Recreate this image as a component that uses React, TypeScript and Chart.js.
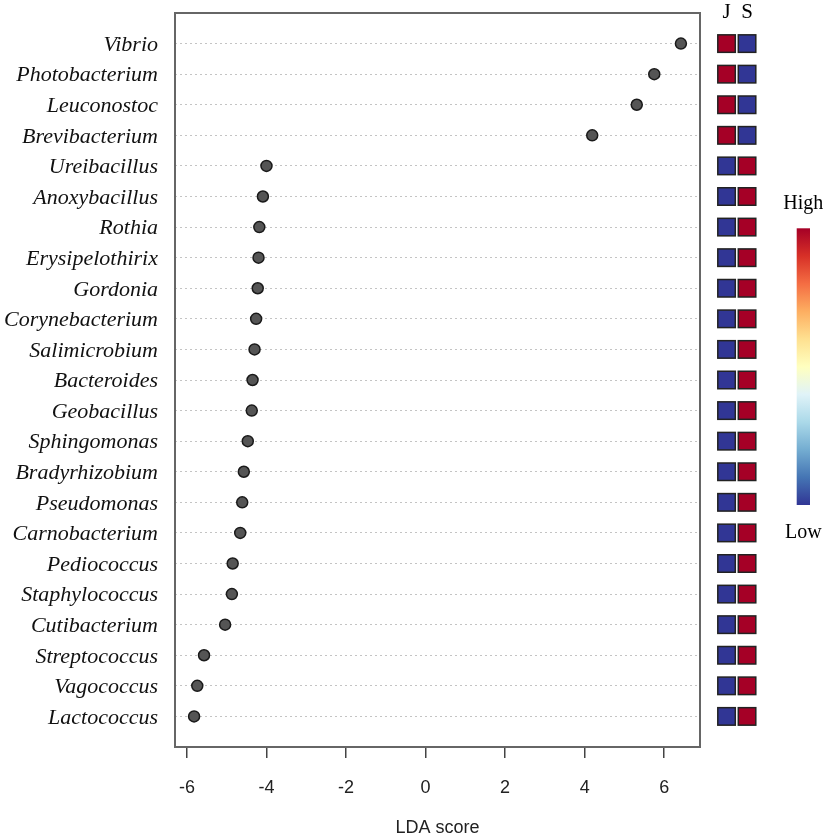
import React, { useEffect, useRef } from "react";
import { Chart, registerables } from "chart.js";

Chart.register(...registerables);

const genera = [
  "Vibrio", "Photobacterium", "Leuconostoc", "Brevibacterium", "Ureibacillus",
  "Anoxybacillus", "Rothia", "Erysipelothirix", "Gordonia", "Corynebacterium",
  "Salimicrobium", "Bacteroides", "Geobacillus", "Sphingomonas", "Bradyrhizobium",
  "Pseudomonas", "Carnobacterium", "Pediococcus", "Staphylococcus", "Cutibacterium",
  "Streptococcus", "Vagococcus", "Lactococcus",
];
const ldaScores = [
  6.42, 5.75, 5.31, 4.19, -4.0, -4.09, -4.18, -4.2, -4.22, -4.26,
  -4.3, -4.35, -4.37, -4.47, -4.57, -4.61, -4.66, -4.85, -4.87, -5.04,
  -5.57, -5.74, -5.82,
];
// relative abundance level per group (1 = high, 0 = low)
const groupJ = [1, 1, 1, 1, 0, 0, 0, 0, 0, 0, 0, 0, 0, 0, 0, 0, 0, 0, 0, 0, 0, 0, 0];
const groupS = [0, 0, 0, 0, 1, 1, 1, 1, 1, 1, 1, 1, 1, 1, 1, 1, 1, 1, 1, 1, 1, 1, 1];
const groupLabels = ["J", "S"];
const xTickValues = [-6, -4, -2, 0, 2, 4, 6];

const palette = [
  "#313695", "#4575b4", "#74add1", "#abd9e9", "#e0f3f8", "#ffffbf",
  "#fee090", "#fdae61", "#f46d43", "#d73027", "#a50026",
];

function hexToRgb(h: string) {
  const n = parseInt(h.slice(1), 16);
  return [(n >> 16) & 255, (n >> 8) & 255, n & 255];
}
function levelColor(v: number) {
  const t = Math.max(0, Math.min(1, v)) * (palette.length - 1);
  const i = Math.min(palette.length - 2, Math.floor(t));
  const f = t - i;
  const a = hexToRgb(palette[i]);
  const b = hexToRgb(palette[i + 1]);
  const c = a.map((x, k) => Math.round(x + (b[k] - x) * f));
  return `rgb(${c[0]},${c[1]},${c[2]})`;
}

const sidePlugin = {
  id: "sidePlugin",
  beforeDatasetsDraw(chart: any) {
    const { ctx, chartArea } = chart;
    ctx.save();
    ctx.strokeStyle = "#666";
    ctx.lineWidth = 2;
    ctx.strokeRect(chartArea.left, chartArea.top, chartArea.right - chartArea.left, chartArea.bottom - chartArea.top);
    ctx.restore();
  },
  afterDraw(chart: any) {
    const { ctx, chartArea } = chart;
    const yScale = chart.scales.y;
    const cell = 17.5;
    const colX = [chartArea.right + 17.8, chartArea.right + 38.3];
    const cols = [groupJ, groupS];
    ctx.save();
    // group headers
    ctx.fillStyle = "#000";
    ctx.font = "21px 'Liberation Serif'";
    ctx.textAlign = "center";
    ctx.textBaseline = "middle";
    groupLabels.forEach((g, k) => {
      ctx.fillText(g, colX[k] + cell / 2, chartArea.top - 0.5);
    });
    // heatmap cells
    ctx.lineWidth = 1.5;
    ctx.strokeStyle = "#222";
    genera.forEach((_, i) => {
      const yc = yScale.getPixelForValue(i);
      cols.forEach((arr, k) => {
        ctx.fillStyle = levelColor(arr[i]);
        ctx.fillRect(colX[k], yc - cell / 2, cell, cell);
        ctx.strokeRect(colX[k], yc - cell / 2, cell, cell);
      });
    });
    // colour key
    const bx = 796.7, bw = 13.3, bTop = 228.3, bBot = 505;
    const grad = ctx.createLinearGradient(0, bBot, 0, bTop);
    palette.forEach((c, i) => grad.addColorStop(i / (palette.length - 1), c));
    ctx.fillStyle = grad;
    ctx.fillRect(bx, bTop, bw, bBot - bTop);
    ctx.fillStyle = "#000";
    ctx.font = "20px 'Liberation Serif'";
    ctx.fillText("High", bx + bw / 2, 204);
    ctx.fillText("Low", bx + bw / 2, 533);
    ctx.restore();
  },
};

export default function App() {
  const ref = useRef<HTMLCanvasElement>(null);
  useEffect(() => {
    if (!ref.current) return;
    const chart = new Chart(ref.current, {
      type: "scatter",
      data: {
        datasets: [
          {
            data: ldaScores.map((v, i) => ({ x: v, y: i })),
            pointRadius: 5.5,
            pointHoverRadius: 5.5,
            backgroundColor: "#555555",
            borderColor: "#1a1a1a",
            borderWidth: 1.5,
          },
        ],
      },
      options: {
        animation: false,
        responsive: false,
        maintainAspectRatio: false,
        devicePixelRatio: 1,
        layout: { padding: { left: 0, right: 127, top: 13, bottom: 0 } },
        plugins: { legend: { display: false }, tooltip: { enabled: false } },
        scales: {
          x: {
            type: "linear",
            min: -6.3,
            max: 6.9,
            afterBuildTicks: (s: any) => {
              s.ticks = xTickValues.map((v) => ({ value: v }));
            },
            afterFit: (s: any) => {
              s.height = 92;
              s.paddingLeft = 0;
              s.paddingRight = 0;
            },
            border: { display: false },
            grid: {
              drawOnChartArea: false,
              drawTicks: true,
              tickLength: 11,
              color: "#444",
              lineWidth: 1.5,
            },
            ticks: {
              padding: 19,
              color: "#222",
              font: { family: "'Liberation Sans', Arial, sans-serif", size: 18 },
              maxRotation: 0,
            },
            title: {
              display: true,
              text: "LDA score",
              color: "#222",
              font: { family: "'Liberation Sans', Arial, sans-serif", size: 18 },
              padding: 0,
            },
          },
          y: {
            type: "linear",
            reverse: true,
            min: -1,
            max: 23,
            afterBuildTicks: (s: any) => {
              s.ticks = genera.map((_, i) => ({ value: i }));
            },
            afterFit: (s: any) => {
              s.width = 175;
              s.paddingTop = 0;
              s.paddingBottom = 0;
            },
            border: { display: false },
            grid: {
              drawTicks: false,
              color: "#c4c4c4",
              lineWidth: 1,
            },
            ticks: {
              padding: 17,
              labelOffset: 1.5,
              color: "#111",
              autoSkip: false,
              font: { family: "'Liberation Serif', 'Times New Roman', serif", size: 22, style: "italic" },
              callback: (v: any) => genera[v as number] ?? "",
            },
          },
        },
      } as any,
      plugins: [sidePlugin],
    });
    // dotted grid lines
    (chart.options.scales as any).y.grid.borderDash = [2, 3];
    (chart.options.scales as any).y.border = { display: false, dash: [2, 3] };
    chart.update();
    return () => chart.destroy();
  }, []);
  return (
    <div style={{ position: "absolute", left: 0, top: 0, width: 827, height: 839, background: "#fff" }}>
      <canvas ref={ref} width={827} height={839} />
    </div>
  );
}
